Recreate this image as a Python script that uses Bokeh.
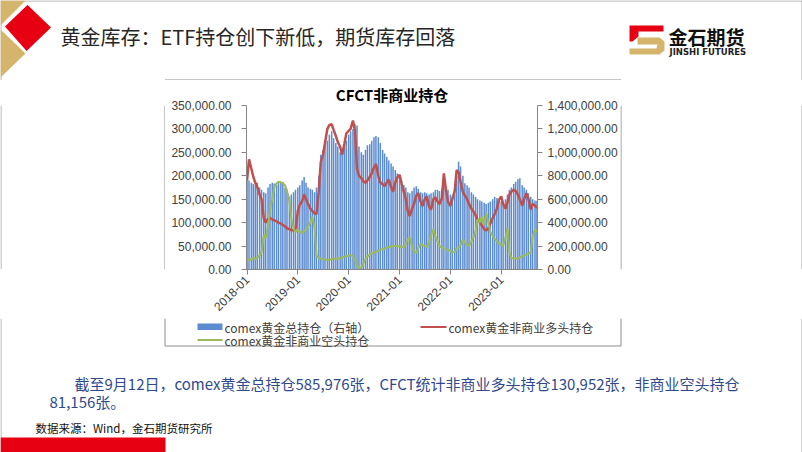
import numpy as np
import pandas as pd
from bokeh.plotting import figure
from bokeh.models import (Range1d, LinearAxis, FixedTicker, NumeralTickFormatter,
                          DatetimeTickFormatter, ColumnDataSource)
from bokeh.layouts import column, row
from bokeh.embed import file_html
from bokeh.resources import INLINE
from bokeh.core.properties import value

# ---------------- data (semi-monthly readings, thousands of contracts) ----------------
dates = pd.date_range("2018-01-01", periods=138, freq="SMS")

total_oi_k = [
    790, 760, 740, 730, 720, 740, 700, 680, 660, 650, 700, 730,
    740, 735, 720, 740, 745, 750, 700, 680, 620, 640, 660, 680,
    700, 720, 760, 790, 740, 700, 690, 680, 660, 700, 800, 980,
    1020, 1060, 1100, 1150, 1180, 1120, 1080, 1050, 1000, 980, 1050, 1100,
    1150, 1180, 1200, 1240, 1230, 1050, 1000, 980, 1020, 1060, 1070, 1100,
    1130, 1140, 1130, 1080, 1020, 990, 960, 930, 905, 880, 850, 820,
    790, 760, 720, 700, 660, 650, 670, 700, 710, 690, 660, 650,
    660, 650, 640, 650, 660, 680, 680, 670, 690, 750, 700, 680,
    640, 620, 680, 800, 920, 880, 800, 736, 720, 700, 660, 640,
    620, 600, 590, 580, 570, 560, 570, 580, 600, 620, 610, 600,
    580, 570, 600, 640, 680, 700, 730, 750, 770, 780, 720, 700,
    680, 650, 620, 600, 590, 586,
]
long_k = [
    190, 235, 215, 198, 185, 177, 160, 150, 110, 100, 108, 110,
    107, 105, 103, 100, 98, 95, 92, 88, 86, 84, 84, 86,
    125, 138, 146, 160, 150, 140, 130, 125, 120, 118, 170, 230,
    245, 270, 300, 308, 310, 298, 285, 272, 262, 245, 268, 290,
    296, 300, 318, 296, 215, 200, 195, 188, 185, 190, 198, 205,
    218, 225, 200, 186, 182, 178, 186, 192, 176, 166, 186, 196,
    202, 184, 165, 150, 125, 114, 130, 140, 158, 163, 145, 135,
    150, 156, 134, 128, 150, 154, 145, 140, 152, 205, 168, 145,
    136, 150, 168, 212, 208, 188, 165, 158, 150, 140, 130, 124,
    116, 106, 100, 94, 86, 83, 88, 98, 110, 118, 130, 148,
    156, 140, 130, 142, 160, 166, 170, 168, 160, 150, 136, 150,
    163, 152, 128, 140, 136, 131,
]
short_k = [
    23, 20, 22, 24, 22, 25, 30, 36, 74, 66, 93, 128,
    150, 175, 184, 187, 186, 184, 180, 168, 146, 110, 88, 80,
    84, 80, 78, 82, 85, 92, 100, 113, 90, 30, 25, 23,
    22, 21, 20, 21, 22, 23, 23, 24, 23, 26, 27, 29,
    30, 31, 28, 20, 8, 2, 5, 12, 23, 28, 32, 35,
    36, 38, 40, 42, 44, 45, 47, 48, 49, 50, 50, 49,
    50, 48, 47, 55, 65, 68, 50, 38, 36, 45, 55, 52,
    50, 48, 60, 72, 86, 70, 60, 50, 47, 45, 43, 42,
    40, 36, 38, 45, 47, 52, 64, 58, 52, 50, 60, 68,
    82, 107, 100, 113, 95, 121, 100, 80, 72, 65, 60, 56,
    54, 50, 68, 88, 36, 25, 23, 24, 23, 26, 28, 30,
    32, 34, 36, 70, 86, 81,
]

left_ticks = [0, 50000, 100000, 150000, 200000, 250000, 300000, 350000]
right_ticks = [0, 200000, 400000, 600000, 800000, 1000000, 1200000, 1400000]
year_ticks = ["2018-01-01", "2019-01-01", "2020-01-01", "2021-01-01", "2022-01-01", "2023-01-01"]

series_names = ["comex黄金总持仓（右轴）", "comex黄金非商业多头持仓", "comex黄金非商业空头持仓"]
chart_title = "CFCT非商业持仓"
slide_title = "黄金库存：ETF持仓创下新低，期货库存回落"
note_line1 = "截至9月12日，comex黄金总持仓585,976张，CFCT统计非商业多头持仓130,952张，非商业空头持仓"
note_line2 = "81,156张。"
source_text = "数据来源：Wind，金石期货研究所"

CJK = "Noto Sans CJK SC"
NUM = "Liberation Sans"
BLUE = "#5B8BD0"
RED = "#C0504D"
GREEN = "#9BBB59"
GOLD = "#D5B56B"
SRED = "#E60012"
BORDER = "#A6A6A6"
BOX = "#8C8C8C"


def deco(w, h):
    f = figure(width=w, height=h, x_range=Range1d(0, w), y_range=Range1d(h, 0),
               x_axis_type=None, y_axis_type=None, toolbar_location=None,
               output_backend="svg", min_border=0, outline_line_color=None)
    f.background_fill_color = "white"
    f.border_fill_color = "white"
    return f


# ---------------- header (y 0-80) ----------------
H = deco(802, 80)
H.segment(x0=[0, 0.5, 801.5], y0=[0.5, 0, 0], x1=[802, 0.5, 801.5], y1=[0.5, 80, 80],
          line_color=BORDER, line_width=1)
H.patches(xs=[[0, 25, 0], [0, 25, 0]], ys=[[0, 0, 25], [29, 53, 77]], fill_color=GOLD, line_color=None)
H.patch(x=[27, 52, 26, 3], y=[3, 27, 52, 26], fill_color=SRED, line_color="white", line_width=2)
H.text(x=[60], y=[36], text=[slide_title], text_font=value(CJK), text_font_size="20px",
       text_baseline="middle", text_align="left", text_color="#262626")
H.segment(x0=[164.5], y0=[79.5], x1=[620.5], y1=[79.5], line_color=BOX, line_width=1)
# logo
H.patch(x=[629, 663, 663, 638, 638, 632, 629], y=[25, 25, 31, 31, 36, 41, 41], fill_color=SRED, line_color=None)
H.patch(x=[637, 659, 664, 664, 659, 629, 629, 656, 657, 637],
        y=[37, 37, 41, 50, 54, 54, 48, 48, 44, 44], fill_color=GOLD, line_color=None)
H.text(x=[668], y=[35.5], text=["金石期货"], text_font=value(CJK), text_font_size="19px",
       text_font_style="bold", text_baseline="middle", text_align="left", text_color="#111111")
H.text(x=[669], y=[51], text=["JINSHI FUTURES"], text_font=value("DejaVu Sans"), text_font_size="8.5px",
       text_font_style="bold", text_baseline="middle", text_align="left", text_color="#222222")

# ---------------- side spacers (y 80-318) ----------------
L = deco(165, 238)
L.segment(x0=[0.5, 164.5], y0=[0, 0], x1=[0.5, 164.5], y1=[238, 238], line_color=[BORDER, BOX], line_width=1)
R = deco(182, 238)
R.segment(x0=[0.5, 181.5], y0=[0, 0], x1=[0.5, 181.5], y1=[238, 238], line_color=[BOX, BORDER], line_width=1)

# ---------------- chart ----------------
src = ColumnDataSource(dict(
    date=dates,
    oi=[v * 1000 for v in total_oi_k],
    long=[v * 1000 for v in long_k],
    short=[v * 1000 for v in short_k],
))

p = figure(width=455, height=238, x_axis_type="datetime",
           x_range=Range1d(pd.Timestamp("2017-12-28"), pd.Timestamp("2023-09-19")),
           y_range=Range1d(0, 350000), toolbar_location=None, output_backend="svg",
           min_border_left=81, min_border_right=82, min_border_top=23, min_border_bottom=49)
p.extra_y_ranges = {"oi": Range1d(0, 1400000)}
p.background_fill_color = "white"
p.border_fill_color = "white"
p.outline_line_color = None
p.xgrid.visible = False
p.ygrid.visible = False

p.title.text = chart_title
p.title.align = "center"
p.title.text_font = CJK
p.title.text_font_size = "15px"
p.title.text_font_style = "bold"
p.title.text_color = "#000000"
p.title.standoff = 2

bar_w = 15.2 * 86400000 * 0.72
p.vbar(x="date", top="oi", width=bar_w, source=src, y_range_name="oi",
       fill_color=BLUE, line_color=None)
p.line(x="date", y="long", source=src, line_color=RED, line_width=2.5)
p.line(x="date", y="short", source=src, line_color=GREEN, line_width=2)

fmt = NumeralTickFormatter(format="0,0.00")
ya = p.yaxis[0]
ya.ticker = FixedTicker(ticks=left_ticks)
ya.formatter = fmt
ya.major_label_standoff = 10

ra = LinearAxis(y_range_name="oi", ticker=FixedTicker(ticks=right_ticks), formatter=fmt)
ra.major_label_standoff = 5
p.add_layout(ra, "right")

xa = p.xaxis[0]
xa.ticker = FixedTicker(ticks=[pd.Timestamp(d).value // 10**6 for d in year_ticks])
xa.formatter = DatetimeTickFormatter(years="%Y-%m", months="%Y-%m", days="%Y-%m")
xa.major_label_orientation = np.pi / 4
xa.major_label_standoff = 3

for ax in [ya, ra, xa]:
    ax.axis_line_color = "#868686"
    ax.major_tick_line_color = "#868686"
    ax.major_tick_in = 0
    ax.major_tick_out = 5
    ax.minor_tick_line_color = None
    ax.major_label_text_font = NUM
    ax.major_label_text_font_size = "12px"
    ax.major_label_text_color = "#404040"

# ---------------- footer (y 318-452), includes legend ----------------
F = deco(802, 134)
F.segment(x0=[164.5, 164.5, 620.5, 0.5, 801.5], y0=[27.5, 0, 0, 0, 0],
          x1=[620.5, 164.5, 620.5, 0.5, 801.5], y1=[27.5, 27.5, 27.5, 134, 134],
          line_color=[BOX, BOX, BOX, BORDER, BORDER], line_width=1)
# legend
F.quad(left=[197], right=[222], top=[5], bottom=[11.5], fill_color=BLUE, line_color=None)
F.segment(x0=[420, 197], y0=[8.5, 21.5], x1=[446, 222], y1=[8.5, 21.5], line_color=[RED, GREEN], line_width=2)
F.text(x=[224, 448, 224], y=[8.5, 8.5, 21.5], text=series_names, text_font=value(CJK), text_font_size="12px",
       text_baseline="middle", text_align="left", text_color="#404040")
# notes
F.text(x=[74, 49], y=[65, 83], text=[note_line1, note_line2], text_font=value(CJK), text_font_size="15px",
       text_baseline="middle", text_align="left", text_color="#2F4A8C")
F.text(x=[35], y=[109], text=[source_text], text_font=value(CJK), text_font_size="11.5px",
       text_baseline="middle", text_align="left", text_color="#111111")
F.quad(left=[0, 165], right=[165, 802], top=[119], bottom=[134], fill_color=[SRED, GOLD], line_color=None)

layout = column(H, row(L, p, R), F)
open("out.html", "w").write(file_html(layout, INLINE))
